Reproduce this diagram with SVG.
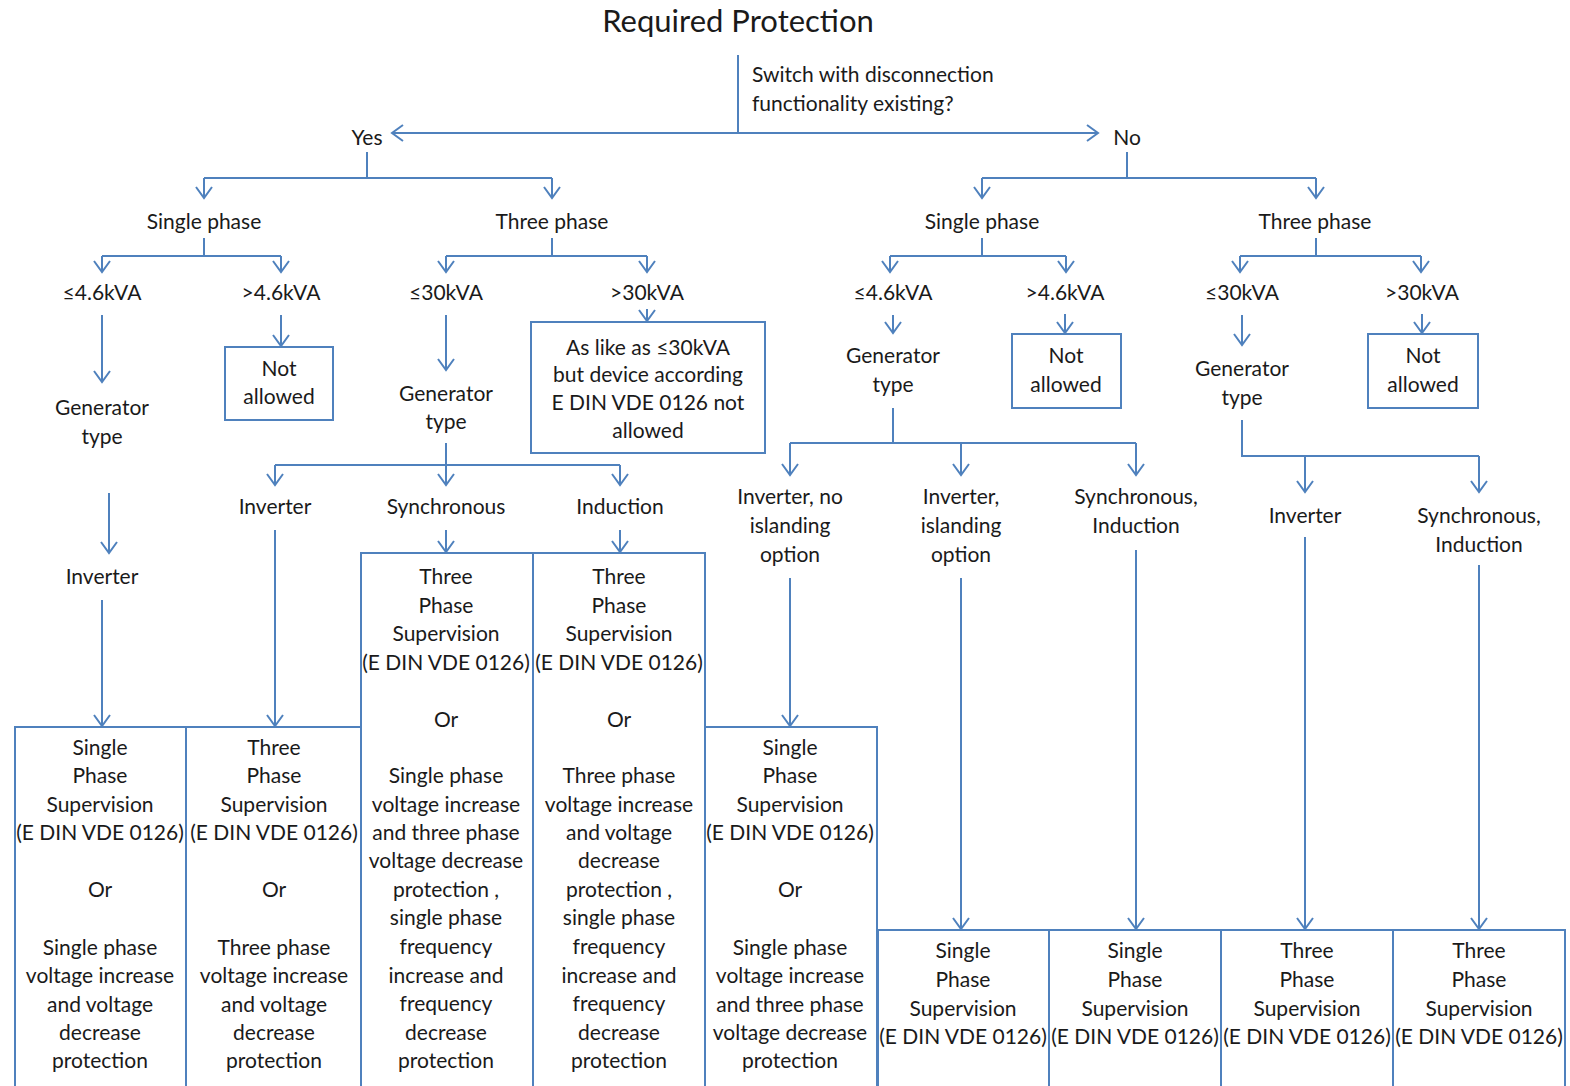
<svg xmlns="http://www.w3.org/2000/svg" width="1570" height="1086" viewBox="0 0 1570 1086">
<style>
text{font-family:Lato,"Open Sans","Liberation Sans",sans-serif;font-size:21px;fill:#1a1a1a;text-anchor:middle}
.t{font-size:31px}
.q{text-anchor:start;font-size:21px}
.box{fill:#fff;stroke:#4f81bd;stroke-width:2}
.c{fill:none;stroke:#4f81bd;stroke-width:2}
.a{marker-end:url(#ah)}
.d{marker-start:url(#ah);marker-end:url(#ah)}
</style>
<defs>
<marker id="ah" viewBox="-14 -10 16 20" refX="0" refY="0" markerWidth="16" markerHeight="20" markerUnits="userSpaceOnUse" orient="auto-start-reverse">
<path d="M-11,-8 L0,0 L-11,8" fill="none" stroke="#4f81bd" stroke-width="2"/>
</marker>
</defs>
<rect width="1570" height="1086" fill="#fff"/>
<g id="connectors">
<path class="c" d="M738,55 V133"/>
<path class="c d" d="M392,133 H1098"/>
<path class="c" d="M367,152 V178 M204,178 H552 M1127,152 V178 M982,178 H1316"/>
<path class="c a" d="M204,178 V198"/><path class="c a" d="M552,178 V198"/>
<path class="c a" d="M982,178 V198"/><path class="c a" d="M1316,178 V198"/>
<path class="c" d="M204,238 V256 M102,256 H281 M552,238 V256 M446,256 H647 M982,238 V256 M890,256 H1066 M1316,238 V256 M1240,256 H1421"/>
<path class="c a" d="M102,256 V272"/><path class="c a" d="M281,256 V272"/>
<path class="c a" d="M446,256 V272"/><path class="c a" d="M647,256 V272"/>
<path class="c a" d="M890,256 V272"/><path class="c a" d="M1066,256 V272"/>
<path class="c a" d="M1240,256 V272"/><path class="c a" d="M1421,256 V272"/>
<path class="c a" d="M102,315 V382"/>
<path class="c a" d="M281,315 V346"/>
<path class="c a" d="M446,315 V370"/>
<path class="c a" d="M647,309 V321"/>
<path class="c a" d="M893,315 V333"/>
<path class="c a" d="M1065,314 V333"/>
<path class="c a" d="M1242,315 V345"/>
<path class="c a" d="M1422,314 V333"/>
<path class="c a" d="M109,493 V553"/>
<path class="c a" d="M102,600 V726"/>
<path class="c" d="M446,443 V465 M275,465 H620"/>
<path class="c a" d="M446,465 V485"/><path class="c a" d="M275,465 V485"/><path class="c a" d="M620,465 V485"/>
<path class="c a" d="M275,530 V726"/>
<path class="c a" d="M446,530 V552"/>
<path class="c a" d="M620,530 V552"/>
<path class="c" d="M893,408 V443 M790,443 H1136"/>
<path class="c a" d="M790,443 V475"/><path class="c a" d="M961,443 V475"/><path class="c a" d="M1136,443 V475"/>
<path class="c a" d="M790,578 V726"/>
<path class="c a" d="M961,578 V929"/>
<path class="c a" d="M1136,550 V929"/>
<path class="c" d="M1242,420 V456 H1479"/>
<path class="c a" d="M1305,456 V492"/><path class="c a" d="M1479,456 V492"/>
<path class="c a" d="M1305,537 V929"/>
<path class="c a" d="M1479,565 V929"/>
</g>
<g id="title"><text class="t" x="738" y="32">Required Protection</text></g>
<g id="question"><text class="q" x="752" y="82">Switch with disconnection</text><text class="q" x="752" y="111">functionality existing?</text></g>
<g id="yes"><text x="367" y="145">Yes</text></g>
<g id="no"><text x="1127" y="145">No</text></g>
<g id="yes-single"><text x="204" y="229">Single phase</text></g>
<g id="yes-three"><text x="552" y="229">Three phase</text></g>
<g id="no-single"><text x="982" y="229">Single phase</text></g>
<g id="no-three"><text x="1315" y="229">Three phase</text></g>
<g id="ys-le"><text x="102" y="300">≤4.6kVA</text></g>
<g id="ys-gt"><text x="281" y="300">&gt;4.6kVA</text></g>
<g id="yt-le"><text x="446" y="300">≤30kVA</text></g>
<g id="yt-gt"><text x="647" y="300">&gt;30kVA</text></g>
<g id="ns-le"><text x="893" y="300">≤4.6kVA</text></g>
<g id="ns-gt"><text x="1065" y="300">&gt;4.6kVA</text></g>
<g id="nt-le"><text x="1242" y="300">≤30kVA</text></g>
<g id="nt-gt"><text x="1422" y="300">&gt;30kVA</text></g>
<g id="na1"><rect class="box" x="225" y="347" width="108" height="73"/><text x="279" y="376">Not</text><text x="279" y="404">allowed</text></g>
<g id="na2"><rect class="box" x="1012" y="334" width="109" height="74"/><text x="1066" y="363">Not</text><text x="1066" y="392">allowed</text></g>
<g id="na3"><rect class="box" x="1368" y="334" width="110" height="74"/><text x="1423" y="363">Not</text><text x="1423" y="392">allowed</text></g>
<g id="aslike"><rect class="box" x="531" y="322" width="234" height="131"/><text x="648" y="355">As like as ≤30kVA</text><text x="648" y="382">but device according</text><text x="648" y="410">E DIN VDE 0126 not</text><text x="648" y="438">allowed</text></g>
<g id="gen1"><text x="102" y="415">Generator</text><text x="102" y="444">type</text></g>
<g id="gen2"><text x="446" y="401">Generator</text><text x="446" y="429">type</text></g>
<g id="gen3"><text x="893" y="363">Generator</text><text x="893" y="392">type</text></g>
<g id="gen4"><text x="1242" y="376">Generator</text><text x="1242" y="405">type</text></g>
<g id="inv1"><text x="102" y="584">Inverter</text></g>
<g id="inv2"><text x="275" y="514">Inverter</text></g>
<g id="sync"><text x="446" y="514">Synchronous</text></g>
<g id="ind"><text x="620" y="514">Induction</text></g>
<g id="inv-no"><text x="790" y="504">Inverter, no</text><text x="790" y="533">islanding</text><text x="790" y="562">option</text></g>
<g id="inv-isl"><text x="961" y="504">Inverter,</text><text x="961" y="533">islanding</text><text x="961" y="562">option</text></g>
<g id="syncind1"><text x="1136" y="504">Synchronous,</text><text x="1136" y="533">Induction</text></g>
<g id="inv3"><text x="1305" y="523">Inverter</text></g>
<g id="syncind2"><text x="1479" y="523">Synchronous,</text><text x="1479" y="552">Induction</text></g>
<g id="boxA"><rect class="box" x="15" y="727" width="171" height="370"/>
<text x="100" y="755">Single</text><text x="100" y="783">Phase</text><text x="100" y="812">Supervision</text><text x="100" y="840">(E DIN VDE 0126)</text><text x="100" y="897">Or</text><text x="100" y="955">Single phase</text><text x="100" y="983">voltage increase</text><text x="100" y="1012">and voltage</text><text x="100" y="1040">decrease</text><text x="100" y="1068">protection</text></g>
<g id="boxB"><rect class="box" x="186" y="727" width="175" height="370"/>
<text x="274" y="755">Three</text><text x="274" y="783">Phase</text><text x="274" y="812">Supervision</text><text x="274" y="840">(E DIN VDE 0126)</text><text x="274" y="897">Or</text><text x="274" y="955">Three phase</text><text x="274" y="983">voltage increase</text><text x="274" y="1012">and voltage</text><text x="274" y="1040">decrease</text><text x="274" y="1068">protection</text></g>
<g id="boxC"><rect class="box" x="361" y="553" width="172" height="544"/>
<text x="446" y="584">Three</text><text x="446" y="613">Phase</text><text x="446" y="641">Supervision</text><text x="446" y="670">(E DIN VDE 0126)</text><text x="446" y="727">Or</text><text x="446" y="783">Single phase</text><text x="446" y="812">voltage increase</text><text x="446" y="840">and three phase</text><text x="446" y="868">voltage decrease</text><text x="446" y="897">protection ,</text><text x="446" y="925">single phase</text><text x="446" y="954">frequency</text><text x="446" y="983">increase and</text><text x="446" y="1011">frequency</text><text x="446" y="1040">decrease</text><text x="446" y="1068">protection</text></g>
<g id="boxD"><rect class="box" x="533" y="553" width="172" height="544"/>
<text x="619" y="584">Three</text><text x="619" y="613">Phase</text><text x="619" y="641">Supervision</text><text x="619" y="670">(E DIN VDE 0126)</text><text x="619" y="727">Or</text><text x="619" y="783">Three phase</text><text x="619" y="812">voltage increase</text><text x="619" y="840">and voltage</text><text x="619" y="868">decrease</text><text x="619" y="897">protection ,</text><text x="619" y="925">single phase</text><text x="619" y="954">frequency</text><text x="619" y="983">increase and</text><text x="619" y="1011">frequency</text><text x="619" y="1040">decrease</text><text x="619" y="1068">protection</text></g>
<g id="boxE"><rect class="box" x="705" y="727" width="172" height="370"/>
<text x="790" y="755">Single</text><text x="790" y="783">Phase</text><text x="790" y="812">Supervision</text><text x="790" y="840">(E DIN VDE 0126)</text><text x="790" y="897">Or</text><text x="790" y="955">Single phase</text><text x="790" y="983">voltage increase</text><text x="790" y="1012">and three phase</text><text x="790" y="1040">voltage decrease</text><text x="790" y="1068">protection</text></g>
<g id="boxF"><rect class="box" x="878" y="930" width="171" height="170"/>
<text x="963" y="958">Single</text><text x="963" y="987">Phase</text><text x="963" y="1016">Supervision</text><text x="963" y="1044">(E DIN VDE 0126)</text></g>
<g id="boxG"><rect class="box" x="1049" y="930" width="172" height="170"/>
<text x="1135" y="958">Single</text><text x="1135" y="987">Phase</text><text x="1135" y="1016">Supervision</text><text x="1135" y="1044">(E DIN VDE 0126)</text></g>
<g id="boxH"><rect class="box" x="1221" y="930" width="172" height="170"/>
<text x="1307" y="958">Three</text><text x="1307" y="987">Phase</text><text x="1307" y="1016">Supervision</text><text x="1307" y="1044">(E DIN VDE 0126)</text></g>
<g id="boxI"><rect class="box" x="1393" y="930" width="172" height="170"/>
<text x="1479" y="958">Three</text><text x="1479" y="987">Phase</text><text x="1479" y="1016">Supervision</text><text x="1479" y="1044">(E DIN VDE 0126)</text></g>
</svg>
